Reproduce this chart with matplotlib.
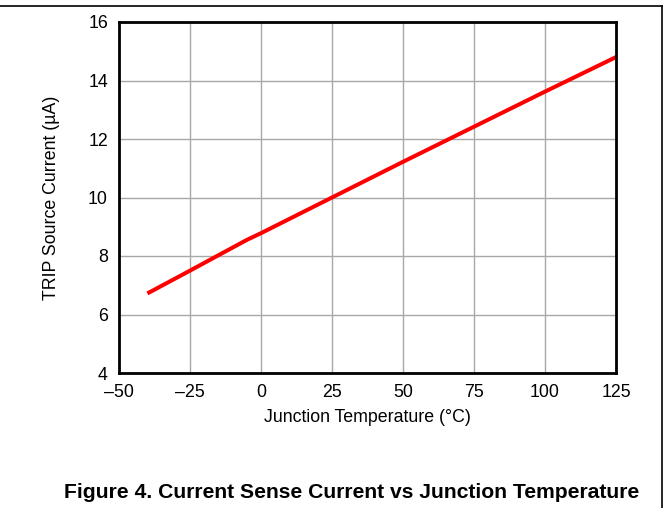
import matplotlib
matplotlib.use("Agg")
import matplotlib.pyplot as plt
from matplotlib.lines import Line2D

temperature = [-40, -25, -5, 0, 25, 50, 75, 100, 125]
trip_current = [6.72, 7.5, 8.55, 8.78, 10.0, 11.22, 12.42, 13.62, 14.8]
xticks = [-50, -25, 0, 25, 50, 75, 100, 125]
yticks = [4, 6, 8, 10, 12, 14, 16]

plt.rcParams['font.family'] = ['Liberation Sans', 'DejaVu Sans']
plt.rcParams['axes.unicode_minus'] = True

W, H = 669, 508
fig = plt.figure(figsize=(W/100, H/100), dpi=100)
ax = fig.add_axes([119/W, 1-373/H, (616-119)/W, (373-22)/H])

ax.plot(temperature, trip_current, color='#ff0000', lw=2.9, solid_capstyle='butt')
ax.set_xlim(-50, 125)
ax.set_ylim(4, 16)
ax.set_xticks(xticks)
ax.set_yticks(yticks)
ax.set_xticklabels([str(t).replace('-', '\u2013') for t in xticks])
ax.grid(True, color='#a8a8a8', lw=1.0)
ax.set_axisbelow(True)
ax.tick_params(length=0, labelsize=12.8, pad=8, colors='black')
for s in ax.spines.values():
    s.set_linewidth(2.0)
    s.set_color('black')

ax.set_xlabel('Junction Temperature (°C)', fontsize=12.8, labelpad=6)
ax.set_ylabel('TRIP Source Current (µA)', fontsize=12.8, labelpad=20)

fig.text(352/W, 1-493/H, 'Figure 4. Current Sense Current vs Junction Temperature',
         ha='center', va='center', fontsize=15.2, fontweight='bold')

fig.add_artist(Line2D([0, 662/W], [1-5.5/H, 1-5.5/H], transform=fig.transFigure, color='black', lw=1.2))
fig.add_artist(Line2D([662/W, 662/W], [0, 1-5.5/H], transform=fig.transFigure, color='black', lw=1.2))

fig.savefig('out.png', dpi=100)
